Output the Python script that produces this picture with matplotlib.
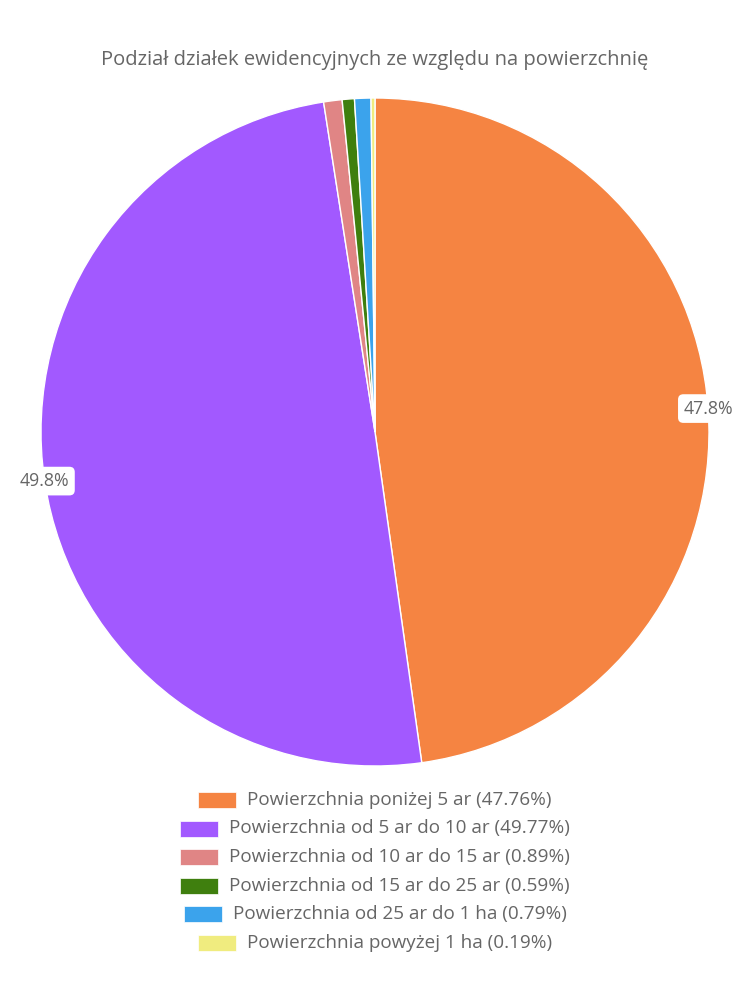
import matplotlib
matplotlib.use("Agg")
import matplotlib.pyplot as plt
import numpy as np

plt.rcParams['font.family'] = ['Open Sans', 'DejaVu Sans']

# Data
title = "Podział działek ewidencyjnych ze względu na powierzchnię"
categories = [
    "Powierzchnia poniżej 5 ar",
    "Powierzchnia od 5 ar do 10 ar",
    "Powierzchnia od 10 ar do 15 ar",
    "Powierzchnia od 15 ar do 25 ar",
    "Powierzchnia od 25 ar do 1 ha",
    "Powierzchnia powyżej 1 ha",
]
values = [47.76, 49.77, 0.89, 0.59, 0.79, 0.19]
colors = ["#f58442", "#a259ff", "#e08585", "#3f7f0e", "#3ba3ec", "#f0ec7f"]

text_color = "#666666"

fig = plt.figure(figsize=(7.5, 10), dpi=100)

# Pie: center (375, 432) px, radius 334 px
cx, cy, r = 375 / 750, 1 - 432 / 1000, 334
ax = fig.add_axes([cx - r / 750, cy - r / 1000, 2 * r / 750, 2 * r / 1000])
wedges, _ = ax.pie(values, colors=colors, startangle=90, counterclock=False,
                   radius=1, wedgeprops=dict(edgecolor="white", linewidth=1))
ax.set_xlim(-1, 1)
ax.set_ylim(-1, 1)
ax.set_aspect("equal")
ax.axis("off")

# Percentage labels on the edge for big slices
for w, v in zip(wedges, values):
    if v < 5:
        continue
    ang = np.deg2rad((w.theta1 + w.theta2) / 2)
    ax.text(np.cos(ang), np.sin(ang), f"{v:.1f}%", ha="center", va="center",
            fontsize=12.8, color=text_color,
            bbox=dict(boxstyle="round,pad=0.3,rounding_size=0.3", fc="white", ec="none"))

fig.text(0.5, 1 - 60 / 1000, title, ha="center", va="center", fontsize=14.5,
         color=text_color)

# Legend, each row centered
renderer = fig.canvas.get_renderer()
box_w, box_h, gap = 38, 16, 11
y0, dy = 800, 28.5
for i, (cat, v, c) in enumerate(zip(categories, values, colors)):
    y = y0 + i * dy
    t = fig.text(0, 1 - y / 1000, f"{cat} ({v:.2f}%)", ha="left", va="center",
                 fontsize=13.6, color=text_color)
    tw = t.get_window_extent(renderer).width
    total = box_w + gap + tw
    left = 375 - total / 2
    t.set_x((left + box_w + gap) / 750)
    fig.patches.append(plt.Rectangle((left / 750, 1 - (y + box_h / 2) / 1000),
                                     box_w / 750, box_h / 1000, transform=fig.transFigure,
                                     fc=c, ec="white", lw=0.5, figure=fig))

fig.savefig("out.png", dpi=100, facecolor="white")
